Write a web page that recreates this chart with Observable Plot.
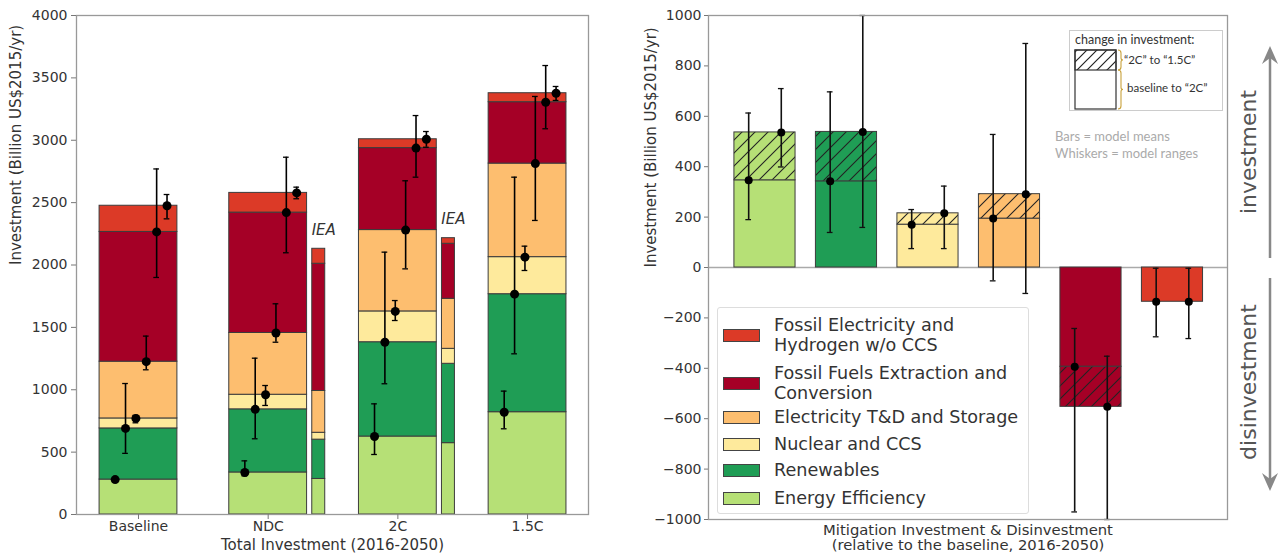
<!DOCTYPE html>
<html><head><meta charset="utf-8">
<script src="https://cdn.jsdelivr.net/npm/d3@7"></script>
<script src="https://cdn.jsdelivr.net/npm/@observablehq/plot@0.6"></script>
<style>
body{margin:0;background:#fff;}
#wrap{position:relative;width:1283px;height:555px;overflow:hidden;font-family:"DejaVu Sans",sans-serif;}
#wrap > *{position:absolute;}
.leg-sw{position:absolute;left:5px;width:35px;height:11px;border:1.3px solid #444;}
.leg-tx{position:absolute;left:56px;font-size:17.6px;line-height:20px;color:#333;white-space:pre;}
</style></head><body><div id="wrap"></div>
<script>
// ---------- data ----------
const scenarios = ["Baseline", "NDC", "2C", "1.5C"];
const sectors = ["Energy Efficiency", "Renewables", "Nuclear and CCS", "Electricity T&D and Storage",
  "Fossil Fuels Extraction and Conversion", "Fossil Electricity and Hydrogen w/o CCS"];
const legendLabels = ["Energy Efficiency", "Renewables", "Nuclear and CCS", "Electricity T&D and Storage",
  "Fossil Fuels Extraction and\nConversion", "Fossil Electricity and\nHydrogen w/o CCS"];
const sectorColors = ["#b6e076", "#1f9d55", "#feea9c", "#fdbe6f", "#a50026", "#dc3a27"];

// model-mean investment per sector (stacked segments), billion US$2015/yr
const baselineMeans = [280, 410, 80, 455, 1040, 210];
const ndcMeans      = [337, 506, 117, 495, 965, 158];
const c2Means       = [625, 756, 247, 652, 657, 71];
const c15Means      = [820, 946, 297, 750, 492, 72];
// IEA comparison bars
const ieaScenarios = ["NDC", "2C"];
const ieaNdc = [285, 315, 55, 335, 1020, 120];
const iea2C  = [572, 636, 120, 401, 441, 45];
// model ranges (cumulative), [low, high]
const baselineRanges = [[272, 290], [490, 1050], [735, 795], [1160, 1430], [1900, 2770], [2370, 2565]];
const ndcRanges      = [[310, 430], [607, 1253], [874, 1034], [1381, 1689], [2098, 2864], [2531, 2624]];
const c2Ranges       = [[481, 887], [1048, 2103], [1555, 1715], [1969, 2675], [2704, 3198], [2944, 3070]];
const c15Ranges      = [[687, 989], [1288, 2704], [1956, 2151], [2357, 3351], [3092, 3599], [3319, 3431]];

// change in investment relative to baseline
const change2C  = [346, 342, 170, 194, -394, -136];
const change15C = [536, 538, 215, 291, -553, -136];
const range2C  = [[190, 613], [139, 697], [75, 230], [-53, 528], [-970, -242], [-275, -3]];
const range15C = [[399, 710], [159, 1000], [75, 323], [-103, 889], [-1000, -352], [-282, -3]];

const leftTicks = d3.range(0, 4001, 500);
const rightTicks = d3.range(-1000, 1001, 200);

// ---------- derived tables ----------
const scenarioMeans = [baselineMeans, ndcMeans, c2Means, c15Means];
const scenarioRanges = [baselineRanges, ndcRanges, c2Ranges, c15Ranges];
const ieaMeans = [ieaNdc, iea2C];
const BAR_W = 0.6, IEA_OFF = 0.39, IEA_W = 0.1, CAP_L = 0.022;

const stackRows = [], whiskerRows = [], ieaLabelRows = [];
scenarios.forEach((s, i) => {
  const tops = d3.cumsum(scenarioMeans[i]);
  sectors.forEach((sec, k) => {
    stackRows.push({x1: i - BAR_W / 2, x2: i + BAR_W / 2, y1: k ? tops[k - 1] : 0, y2: tops[k], sector: sec});
    whiskerRows.push({x: i - 0.18 + 0.08 * k, mean: tops[k], lo: scenarioRanges[i][k][0], hi: scenarioRanges[i][k][1]});
  });
});
ieaScenarios.forEach((s, j) => {
  const i = scenarios.indexOf(s);
  const tops = d3.cumsum(ieaMeans[j]);
  const c = i + IEA_OFF;
  sectors.forEach((sec, k) => stackRows.push({x1: c - IEA_W / 2, x2: c + IEA_W / 2, y1: k ? tops[k - 1] : 0, y2: tops[k], sector: sec}));
  ieaLabelRows.push({x: c, y: tops[tops.length - 1]});
});

const MB_W = 0.75, CAP_R = 0.035;
const baseRows = sectors.map((s, i) => ({x1: i - MB_W / 2, x2: i + MB_W / 2, y1: 0, y2: change2C[i], sector: s}));
const extraRows = sectors.map((s, i) => ({x1: i - MB_W / 2, x2: i + MB_W / 2, y1: change2C[i], y2: change15C[i], sector: s}));
const mWhisk = [
  ...sectors.map((s, i) => ({x: i - 0.2, mean: change2C[i], lo: range2C[i][0], hi: range2C[i][1]})),
  ...sectors.map((s, i) => ({x: i + 0.2, mean: change15C[i], lo: range15C[i][0], hi: range15C[i][1]}))
];

const style = {fontFamily: "DejaVu Sans", fontSize: "14px", color: "#333", background: "transparent"};
const wrap = document.getElementById("wrap");

// ---------- left panel ----------
const left = Plot.plot({
  width: 640, height: 555, marginLeft: 76, marginRight: 52, marginTop: 15, marginBottom: 41,
  style,
  x: {domain: [-0.478, 3.47]},
  y: {domain: [0, 4000]},
  color: {domain: sectors, range: sectorColors},
  marks: [
    Plot.rect(stackRows, {x1: "x1", x2: "x2", y1: "y1", y2: "y2", fill: "sector", stroke: "#3c3c3c", strokeWidth: 1}),
    Plot.text(ieaLabelRows, {x: "x", y: "y", text: () => "IEA", dy: -19, dx: 5, fontStyle: "italic", fontSize: 15, fill: "#333"}),
    Plot.ruleX(whiskerRows, {x: "x", y1: "lo", y2: "hi", stroke: "#000", strokeWidth: 1.6}),
    Plot.ruleY(whiskerRows, {y: "lo", x1: d => d.x - CAP_L, x2: d => d.x + CAP_L, stroke: "#000", strokeWidth: 1.3}),
    Plot.ruleY(whiskerRows, {y: "hi", x1: d => d.x - CAP_L, x2: d => d.x + CAP_L, stroke: "#000", strokeWidth: 1.3}),
    Plot.dot(whiskerRows, {x: "x", y: "mean", r: 4.5, fill: "#000"}),
    Plot.frame({stroke: "#999", strokeWidth: 1.3}),
    Plot.axisY({ticks: leftTicks, tickFormat: d3.format("d"), tickSize: 5, tickPadding: 4, label: null, stroke: "#777"}),
    Plot.axisX({ticks: [0, 1, 2, 3], tickFormat: i => scenarios[i], tickSize: 5, tickPadding: 2, label: null, stroke: "#777"}),
    Plot.text(["Total Investment (2016-2050)"], {text: d => d, frameAnchor: "bottom", lineAnchor: "top", dy: 25, fontSize: 15, fill: "#333"}),
    Plot.text(["Investment (Billion US$2015/yr)"], {text: d => d, frameAnchor: "left", rotate: -90, dx: -60, fontSize: 15, fill: "#333"})
  ]
});
left.style.left = "0px"; left.style.top = "0px";
wrap.appendChild(left);

// ---------- right panel ----------
const right = Plot.plot({
  width: 643, height: 555, marginLeft: 68, marginRight: 56, marginTop: 15, marginBottom: 36,
  style,
  x: {domain: [-0.693, 5.675], axis: null},
  y: {domain: [-1000, 1000]},
  color: {domain: sectors, range: sectorColors},
  marks: [
    Plot.ruleY([0], {stroke: "#aaa", strokeWidth: 1.3}),
    Plot.rect(baseRows, {x1: "x1", x2: "x2", y1: "y1", y2: "y2", fill: "sector", stroke: "#3c3c3c", strokeWidth: 1}),
    Plot.rect(extraRows, {x1: "x1", x2: "x2", y1: "y1", y2: "y2", fill: "sector"}),
    Plot.rect(extraRows, {x1: "x1", x2: "x2", y1: "y1", y2: "y2", fill: "url(#hatch)", stroke: "#3c3c3c", strokeWidth: 1}),
    Plot.ruleX(mWhisk, {x: "x", y1: "lo", y2: "hi", stroke: "#111", strokeWidth: 1.6}),
    Plot.ruleY(mWhisk, {y: "lo", x1: d => d.x - CAP_R, x2: d => d.x + CAP_R, stroke: "#111", strokeWidth: 1.3}),
    Plot.ruleY(mWhisk, {y: "hi", x1: d => d.x - CAP_R, x2: d => d.x + CAP_R, stroke: "#111", strokeWidth: 1.3}),
    Plot.dot(mWhisk, {x: "x", y: "mean", r: 4, fill: "#000"}),
    Plot.frame({stroke: "#999", strokeWidth: 1.3}),
    Plot.axisY({ticks: rightTicks, tickFormat: d3.format("d"), tickSize: 4, tickPadding: 3, label: null, stroke: "#777"}),
    Plot.text(["Mitigation Investment & Disinvestment\n(relative to the baseline, 2016-2050)"], {text: d => d, frameAnchor: "bottom", lineAnchor: "top", dy: 4, lineHeight: 1.05, fontSize: 14.8, fill: "#333"}),
    Plot.text(["Investment (Billion US$2015/yr)"], {text: d => d, frameAnchor: "left", rotate: -90, dx: -57, fontSize: 15, fill: "#333"})
  ]
});
d3.select(right).insert("defs", ":first-child").html(
  '<pattern id="hatch" patternUnits="userSpaceOnUse" width="13" height="13">' +
  '<path d="M-3,3 L3,-3 M0,13 L13,0 M10,16 L16,10" stroke="#222" stroke-width="1.1"/></pattern>');
right.style.left = "640px"; right.style.top = "0px";
wrap.appendChild(right);

// ---------- legend ----------
const leg = document.createElement("div");
Object.assign(leg.style, {left: "717px", top: "307px", width: "310px", height: "205px", border: "1px solid #ddd", borderRadius: "3px", background: "rgba(255,255,255,0.85)"});
const legCenters = [191, 163, 137, 110, 76, 28]; // per sector, in box
sectors.forEach((s, k) => {
  const sw = document.createElement("div");
  sw.className = "leg-sw";
  sw.style.top = (legCenters[k] - 7) + "px";
  sw.style.background = sectorColors[k];
  leg.appendChild(sw);
  const tx = document.createElement("div");
  tx.className = "leg-tx";
  const lines = legendLabels[k].split("\n").length;
  tx.style.top = (legCenters[k] - lines * 10 - 1) + "px";
  tx.textContent = legendLabels[k];
  leg.appendChild(tx);
});
wrap.appendChild(leg);

// ---------- inset key ----------
const inset = d3.create("svg").attr("width", 156).attr("height", 83)
  .style("left", "1068px").style("top", "29px");
inset.append("defs").html('<pattern id="hatch2" patternUnits="userSpaceOnUse" width="10" height="10">' +
  '<path d="M-3,3 L3,-3 M0,10 L10,0 M7,13 L13,7" stroke="#222" stroke-width="1.2"/></pattern>');
inset.append("rect").attr("x", 1.5).attr("y", 1.5).attr("width", 153).attr("height", 80).attr("fill", "#fff").attr("stroke", "#ccc");
inset.append("text").attr("x", 7).attr("y", 15).text("change in investment:")
  .attr("font-family", "Lato").attr("font-size", 12.5).attr("fill", "#333");
inset.append("rect").attr("x", 7).attr("y", 21).attr("width", 41).attr("height", 59).attr("fill", "#fff").attr("stroke", "#333").attr("stroke-width", 1.2);
inset.append("rect").attr("x", 7).attr("y", 21).attr("width", 41).attr("height", 20).attr("fill", "url(#hatch2)").attr("stroke", "#333").attr("stroke-width", 1.2);
const brace = (y0, y1) => { const m = (y0 + y1) / 2; return `M50,${y0} Q53,${y0} 53,${y0 + 3} L53,${m - 2} Q53,${m} 55,${m} Q53,${m} 53,${m + 2} L53,${y1 - 3} Q53,${y1} 50,${y1}`; };
inset.append("path").attr("d", brace(21, 41)).attr("fill", "none").attr("stroke", "#c9a23c").attr("stroke-width", 1.1);
inset.append("path").attr("d", brace(41, 80)).attr("fill", "none").attr("stroke", "#c9a23c").attr("stroke-width", 1.1);
inset.append("text").attr("x", 56).attr("y", 35).text("“2C” to “1.5C”")
  .attr("font-family", "Lato").attr("font-size", 11.5).attr("fill", "#333");
inset.append("text").attr("x", 59).attr("y", 63).text("baseline to “2C”")
  .attr("font-family", "Lato").attr("font-size", 11.5).attr("fill", "#333");
wrap.appendChild(inset.node());

// ---------- notes ----------
["Bars = model means", "Whiskers = model ranges"].forEach((t, i) => {
  const d = document.createElement("div");
  Object.assign(d.style, {left: "1055px", top: (128 + i * 17) + "px", fontFamily: "Lato", fontSize: "13px", color: "#aaa", whiteSpace: "nowrap"});
  d.textContent = t;
  wrap.appendChild(d);
});

// ---------- investment / disinvestment arrows ----------
const side = d3.create("svg").attr("width", 53).attr("height", 555).style("left", "1230px").style("top", "0px");
side.append("text").attr("transform", "translate(18,152) rotate(-90)").attr("text-anchor", "middle").attr("dominant-baseline", "central")
  .attr("font-size", 22).attr("fill", "#555").text("investment");
side.append("text").attr("transform", "translate(18,382) rotate(-90)").attr("text-anchor", "middle").attr("dominant-baseline", "central")
  .attr("font-size", 22).attr("fill", "#555").text("disinvestment");
side.append("line").attr("x1", 40).attr("x2", 40).attr("y1", 258).attr("y2", 52).attr("stroke", "#888").attr("stroke-width", 2.5);
side.append("path").attr("d", "M40,46 L48,64 L40,58 L32,64 Z").attr("fill", "#888");
side.append("line").attr("x1", 40).attr("x2", 40).attr("y1", 278).attr("y2", 485).attr("stroke", "#888").attr("stroke-width", 2.5);
side.append("path").attr("d", "M40,491 L48,473 L40,479 L32,473 Z").attr("fill", "#888");
wrap.appendChild(side.node());
</script></body></html>
